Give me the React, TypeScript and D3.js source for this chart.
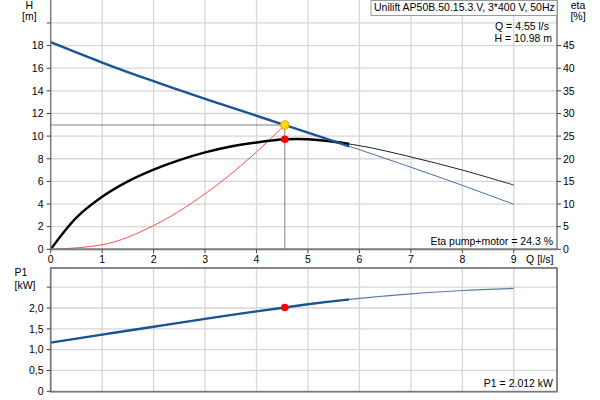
import React from "react";
import * as d3 from "d3";

// ---- data ----
const qTicks = [0, 1, 2, 3, 4, 5, 6, 7, 8, 9];
const hTicks = [0, 2, 4, 6, 8, 10, 12, 14, 16, 18, 20];
const hTickLabels = ["0", "2", "4", "6", "8", "10", "12", "14", "16", "18", ""];
const etaTicks = [0, 5, 10, 15, 20, 25, 30, 35, 40, 45];
const pTicks = [0, 0.5, 1, 1.5, 2, 2.5];
const pTickLabels = ["0", "0,5", "1,0", "1,5", "2,0", ""];

const qH = [0, 1, 2, 3, 4, 4.55, 5, 6, 7, 8, 9];
const hVals = [18.3, 16.5, 14.85, 13.3, 11.8, 10.98, 10.3, 8.8, 7.25, 5.65, 3.98];

const qEta = [0, 0.5, 1, 1.5, 2, 2.5, 3, 3.5, 4, 4.55, 5, 6, 7, 8, 9];
const etaVals = [0, 7.0, 11.6, 15.0, 17.6, 19.7, 21.4, 22.7, 23.6, 24.3, 24.3, 22.9, 20.4, 17.5, 14.2];

const qSys = [0, 1, 2, 3, 4, 4.55];
const hSys = [0, 0.4, 2.1, 4.9, 8.6, 10.98];

const qP = [0, 1, 2, 3, 4, 4.55, 5, 6, 7, 8, 9];
const pVals = [1.17, 1.36, 1.55, 1.74, 1.92, 2.012, 2.09, 2.23, 2.34, 2.42, 2.47];

const dutyQ = 4.55;
const dutyH = 10.98;
const dutyEta = 24.3;
const dutyP = 2.012;
const thickUntilQ = 5.8;

const titleText = "Unilift AP50B.50.15.3.V, 3*400 V, 50Hz";

export default function App() {
  const W = 600, H = 400;
  const x = d3.scaleLinear().domain([0, 9.84]).range([50.7, 557]);
  const yH = d3.scaleLinear().domain([0, 22]).range([249.3, 0.3]);
  const yEta = d3.scaleLinear().domain([0, 55]).range([249.3, 0.3]);
  const yP = d3.scaleLinear().domain([0, 2.96]).range([391.3, 268]);

  const font = "'Liberation Sans', Arial, sans-serif";
  const fs = 10.5;
  const curve = d3.curveNatural;

  const lineH = d3.line<number>().x((_, i) => x(qH[i])).y((d) => yH(d)).curve(curve);
  const lineEta = d3.line<number>().x((_, i) => x(qEta[i])).y((d) => yEta(d)).curve(d3.curveCatmullRom.alpha(0.5));
  const lineSys = d3.line<number>().x((_, i) => x(qSys[i])).y((d) => yH(d)).curve(d3.curveMonotoneX);
  const lineP = d3.line<number>().x((_, i) => x(qP[i])).y((d) => yP(d)).curve(curve);

  const x0 = x(0), x1 = x.range()[1];
  const topY = 0, top0 = yH(0);
  const botTop = yP.range()[1], bot0 = yP(0);
  const grid = "#d6d6d6";
  const axis = "#7a7a7a";
  const blue = "#1a5494";

  return (
    <svg width={W} height={H} style={{ position: "absolute", left: 0, top: 0, background: "#fff" }} fontFamily={font} fontSize={fs}>
      <defs>
        <clipPath id="thickClip">
          <rect x={0} y={0} width={x(thickUntilQ)} height={H} />
        </clipPath>
      </defs>
      <rect x={0} y={0} width={W} height={H} fill="#fff" />

      {/* top chart grid */}
      {qTicks.filter((q) => q > 0).map((q) => (
        <line key={"vg" + q} x1={x(q)} x2={x(q)} y1={topY} y2={top0} stroke={grid} strokeWidth={1.3} />
      ))}
      {hTicks.filter((h) => h > 0).map((h) => (
        <line key={"hg" + h} x1={x0} x2={x1} y1={yH(h)} y2={yH(h)} stroke={grid} strokeWidth={1.3} />
      ))}

      {/* bottom chart grid */}
      {qTicks.filter((q) => q > 0).map((q) => (
        <line key={"vgb" + q} x1={x(q)} x2={x(q)} y1={botTop} y2={bot0} stroke={grid} strokeWidth={1.3} />
      ))}
      {pTicks.filter((p) => p > 0).map((p) => (
        <line key={"pg" + p} x1={x0} x2={x1} y1={yP(p)} y2={yP(p)} stroke={grid} strokeWidth={1.3} />
      ))}

      {/* duty point guide lines */}
      <line x1={x0} x2={x(dutyQ)} y1={yH(dutyH)} y2={yH(dutyH)} stroke="#808080" strokeWidth={1} />
      <line x1={x(dutyQ)} x2={x(dutyQ)} y1={yH(dutyH)} y2={top0} stroke="#808080" strokeWidth={1} />

      {/* system curve */}
      <path d={lineSys(hSys) || ""} fill="none" stroke="#ff4d4d" strokeWidth={1} />

      {/* efficiency */}
      <path d={lineEta(etaVals) || ""} fill="none" stroke="#222" strokeWidth={1} />
      <path d={lineEta(etaVals) || ""} fill="none" stroke="#000" strokeWidth={2.4} clipPath="url(#thickClip)" />

      {/* QH curve */}
      <path d={lineH(hVals) || ""} fill="none" stroke="#4a6ea5" strokeWidth={1} />
      <path d={lineH(hVals) || ""} fill="none" stroke={blue} strokeWidth={2.4} clipPath="url(#thickClip)" />

      {/* P1 curve */}
      <path d={lineP(pVals) || ""} fill="none" stroke="#5d7aa6" strokeWidth={1.2} />
      <path d={lineP(pVals) || ""} fill="none" stroke={blue} strokeWidth={2.4} clipPath="url(#thickClip)" />

      {/* axes top chart */}
      <line x1={x0} x2={x0} y1={topY} y2={top0} stroke={axis} strokeWidth={1.5} />
      <line x1={x1} x2={x1} y1={topY} y2={top0} stroke={axis} strokeWidth={1.5} />
      <line x1={x0} x2={x1} y1={top0} y2={top0} stroke={axis} strokeWidth={2} />
      {hTicks.map((h, i) => (
        <g key={"ht" + h}>
          <line x1={x0 - 4} x2={x0} y1={yH(h)} y2={yH(h)} stroke="#444" strokeWidth={1} />
          <text x={43.5} y={yH(h) + 3.8} textAnchor="end">{hTickLabels[i]}</text>
        </g>
      ))}
      {etaTicks.map((e) => (
        <g key={"et" + e}>
          <line x1={x1} x2={x1 + 4} y1={yEta(e)} y2={yEta(e)} stroke="#444" strokeWidth={1} />
          <text x={563} y={yEta(e) + 3.8}>{e}</text>
        </g>
      ))}
      {qTicks.map((q) => (
        <g key={"qt" + q}>
          <line x1={x(q)} x2={x(q)} y1={top0} y2={top0 + 4} stroke="#444" strokeWidth={1} />
          <text x={x(q)} y={262.7} textAnchor="middle">{q}</text>
        </g>
      ))}
      <text x={553.5} y={262.7} textAnchor="end">Q [l/s]</text>

      {/* axes bottom chart */}
      <rect x={x0} y={botTop} width={x1 - x0} height={bot0 - botTop + 0.4} fill="none" stroke={axis} strokeWidth={1.8} />
      {pTicks.map((p, i) => (
        <g key={"pt" + p}>
          <line x1={x0 - 4} x2={x0} y1={yP(p)} y2={yP(p)} stroke="#444" strokeWidth={1} />
          <text x={43.5} y={yP(p) + 3.8} textAnchor="end">{pTickLabels[i]}</text>
        </g>
      ))}

      {/* duty markers */}
      <circle cx={x(dutyQ)} cy={yEta(dutyEta)} r={3.8} fill="#ff0000" />
      <circle cx={x(dutyQ)} cy={yH(dutyH)} r={4.3} fill="#ffdd00" stroke="#e89a00" strokeWidth={1} />
      <circle cx={x(dutyQ)} cy={yP(dutyP)} r={3.8} fill="#ff0000" />

      {/* labels */}
      <text x={29.3} y={8.7} textAnchor="middle">H</text>
      <text x={29.3} y={20} textAnchor="middle">[m]</text>
      <text x={578} y={8.7} textAnchor="middle">eta</text>
      <text x={578} y={20} textAnchor="middle">[%]</text>
      <text x={14.5} y={275.5}>P1</text>
      <text x={14.5} y={288.5}>[kW]</text>

      <rect x={371} y={0.5} width={186} height={15} fill="#fff" stroke="#9a9a9a" strokeWidth={1} />
      <text x={374} y={11}>{titleText}</text>
      <text x={549} y={29.5} textAnchor="end">{`Q = ${dutyQ} l/s`}</text>
      <text x={552} y={41.5} textAnchor="end">{`H = ${dutyH} m`}</text>
      <text x={553} y={244.5} textAnchor="end">{`Eta pump+motor = ${dutyEta} %`}</text>
      <text x={553} y={386.5} textAnchor="end">{`P1 = ${dutyP} kW`}</text>
    </svg>
  );
}
